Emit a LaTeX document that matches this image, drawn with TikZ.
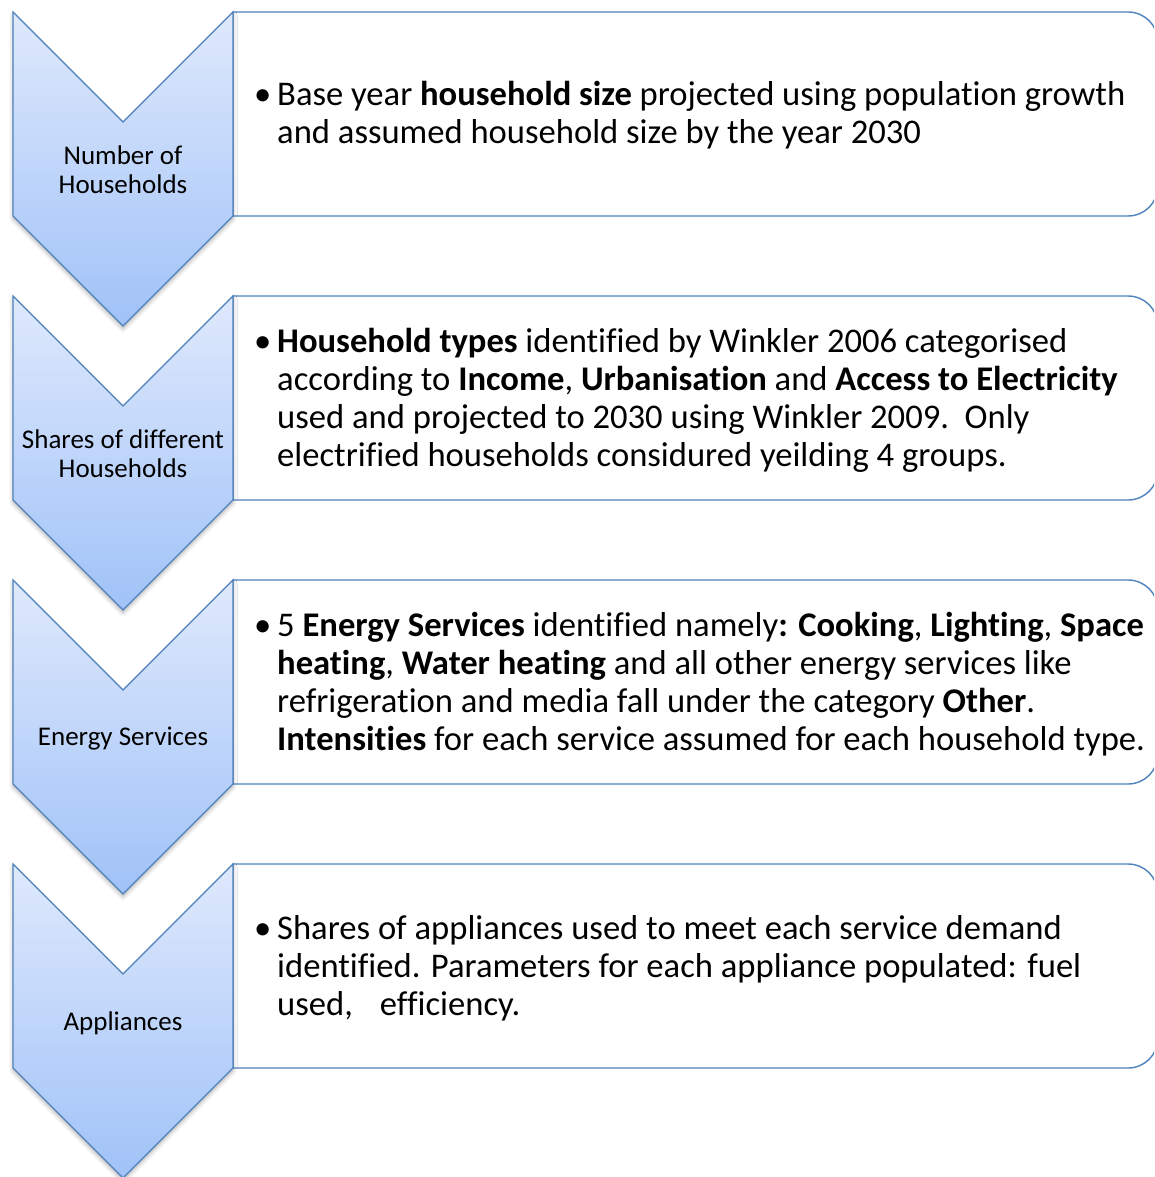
\documentclass[tikz,border=0pt]{standalone}
\usepackage{fontspec}
\setmainfont{Carlito}[Ligatures=NoCommon]
\usetikzlibrary{shadows.blur}

\definecolor{edgeblue}{RGB}{79,129,189}
\definecolor{chevtop}{RGB}{223,233,252}
\definecolor{chevbot}{RGB}{160,194,248}

\tikzset{
  chevron/.style={draw=edgeblue, line width=1.2pt, line join=miter,
    top color=chevtop, bottom color=chevbot,
    blur shadow={shadow xshift=0pt, shadow yshift=-3pt,
                 shadow blur radius=4pt, shadow opacity=30}},
  infobox/.style={draw=edgeblue, line width=1.4pt, fill=white},
  chevlabel/.style={align=center, inner sep=0pt,
    font=\fontsize{27}{29}\selectfont},
  infotext/.style={anchor=west, inner sep=0pt,
    font=\fontsize{34.6}{38}\selectfont},
}

% bullet column + text column
\newcommand{\bulletlist}[1]{%
  \begin{tabular}{@{}l@{}l@{}}\makebox[23pt][l]{\textbullet}&#1\end{tabular}}

\begin{document}
\begin{tikzpicture}[x=1pt, y=-1pt]
  \useasboundingbox (0,0) rectangle (1154,1177);
  \clip (0,0) rectangle (1154,1177);

  % text panels with rounded right side
  \foreach \t in {12,296,580,864} {
    \draw[infobox] (600,\t) [rounded corners=30pt] -- (1158,\t)
      -- (1158,\t+204) -- (600,\t+204) [sharp corners] -- (233,\t+204)
      -- (233,\t) -- cycle;
  }

  % down-pointing chevrons
  \foreach \t in {12,296,580,864} {
    \path[chevron] (13,\t) -- (123,\t+110) -- (233,\t) -- (233,\t+204)
      -- (123,\t+314) -- (13,\t+204) -- cycle;
  }

  % chevron labels
  \node[chevlabel] (lab1) at (123,170) {Number of\\Households};
  \node[chevlabel] (lab2) at (123,454) {Shares of different\\Households};
  \node[chevlabel] (lab3) at (123,739) {Energy Services};
  \node[chevlabel] (lab4) at (123,1023) {Appliances};

  % panel texts
  \node[infotext] (txt1) at (254,117) {\bulletlist{%
    Base year \textbf{household size} projected using population growth\\
    & and assumed household size by the year 2030}};

  \node[infotext] (txt2) at (254,402) {\bulletlist{%
    \textbf{Household types} identified by Winkler 2006 categorised\\
    & according to \textbf{Income}, \textbf{Urbanisation} and \textbf{Access to Electricity}\\
    & used and projected to 2030 using Winkler 2009.\ \ Only\\
    & electrified households considured yeilding 4 groups.}};

  \node[infotext] (txt3) at (254,686) {\bulletlist{%
    5 \textbf{Energy Services} identified namely\textbf{: Cooking}, \textbf{Lighting}, \textbf{Space}\\
    & \textbf{heating}, \textbf{Water heating} and all other energy services like\\
    & refrigeration and media fall under the category \textbf{Other}.\\
    & \textbf{Intensities} for each service assumed for each household type.}};

  \node[infotext] (txt4) at (254,970) {\bulletlist{%
    Shares of appliances used to meet each service demand\\
    & identified. Parameters for each appliance populated: fuel\\
    & used,\hspace{27pt}efficiency.}};
\end{tikzpicture}
\end{document}
